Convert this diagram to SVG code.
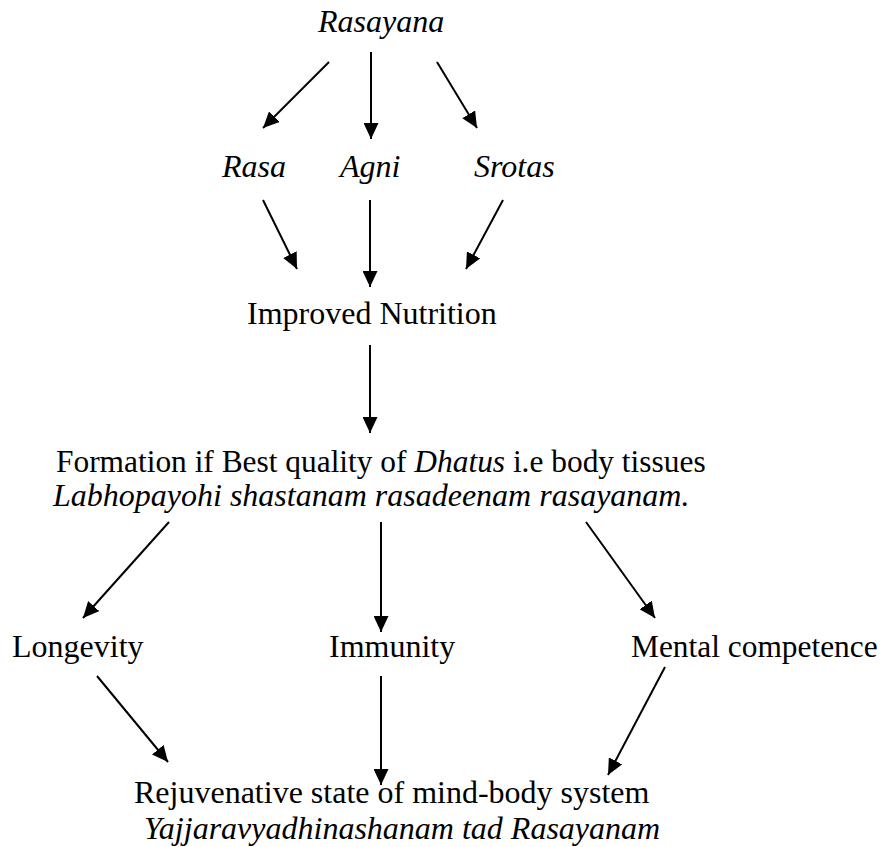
<svg xmlns="http://www.w3.org/2000/svg" width="885" height="847" viewBox="0 0 885 847">
<style>
text{font-family:"Liberation Serif","Times New Roman",serif;font-size:32px;fill:#000}
.i{font-style:italic}
.s{font-size:31.4px}
.c line{stroke:#000;stroke-width:2;marker-end:url(#ah)}
</style>
<defs>
<marker id="ah" markerUnits="userSpaceOnUse" markerWidth="16" markerHeight="15" refX="16" refY="7.5" orient="auto">
<path d="M0,0 L16,7.5 L0,15 z" fill="#000"/>
</marker>
</defs>
<rect width="885" height="847" fill="#fff"/>
<g id="rasayana"><text class="i" x="318" y="32">Rasayana</text></g>
<g id="rasa"><text class="i" x="222" y="177">Rasa</text></g>
<g id="agni"><text class="i" x="340" y="177">Agni</text></g>
<g id="srotas"><text class="i" x="474" y="177">Srotas</text></g>
<g id="nutrition"><text x="247" y="324">Improved Nutrition</text></g>
<g id="dhatus">
<text class="s" x="56" y="472">Formation if Best quality of <tspan class="i">Dhatus</tspan> i.e body tissues</text>
<text class="i" x="53" y="506">Labhopayohi shastanam rasadeenam rasayanam.</text>
</g>
<g id="longevity"><text x="12" y="657">Longevity</text></g>
<g id="immunity"><text x="329" y="657">Immunity</text></g>
<g id="mental"><text class="s" x="631" y="657">Mental competence</text></g>
<g id="rejuvenative">
<text x="134" y="803">Rejuvenative state of mind-body system</text>
<text class="i" x="144" y="839">Yajjaravyadhinashanam tad Rasayanam</text>
</g>
<g id="connectors" class="c">
<line x1="329" y1="62" x2="263" y2="128"/>
<line x1="371" y1="52" x2="371" y2="139"/>
<line x1="437" y1="62" x2="477" y2="128"/>
<line x1="263" y1="200" x2="297" y2="269"/>
<line x1="370" y1="200" x2="370" y2="287"/>
<line x1="503" y1="200" x2="466" y2="269"/>
<line x1="370" y1="345" x2="370" y2="433"/>
<line x1="169" y1="522" x2="83" y2="618"/>
<line x1="381" y1="522" x2="381" y2="632"/>
<line x1="586" y1="522" x2="655" y2="618"/>
<line x1="97" y1="676" x2="168" y2="762"/>
<line x1="381" y1="676" x2="381" y2="785"/>
<line x1="665" y1="667" x2="608" y2="775"/>
</g>
</svg>
